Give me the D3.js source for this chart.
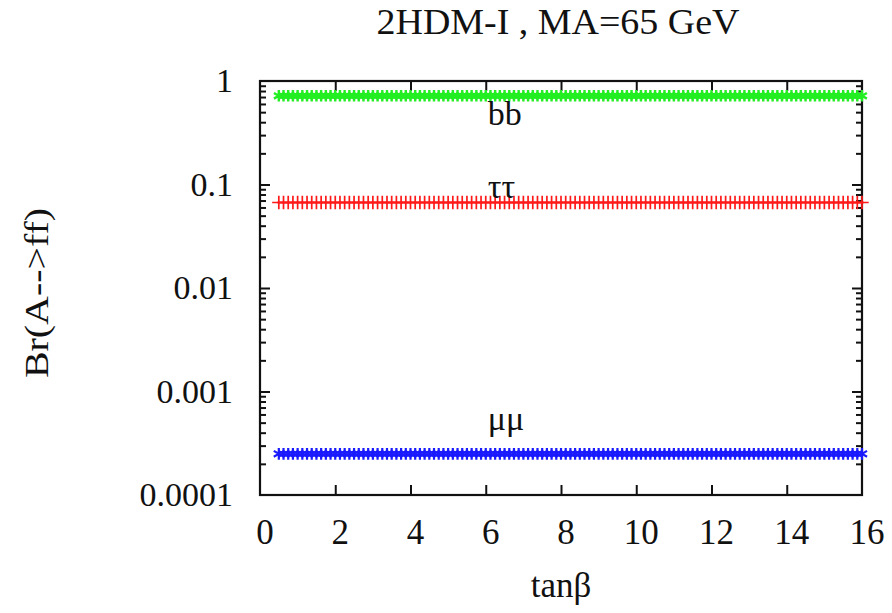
<!DOCTYPE html>
<html>
<head>
<meta charset="utf-8">
<script src="https://cdn.jsdelivr.net/npm/d3@7"></script>
<style>
  html, body { margin: 0; padding: 0; background: #fff; }
  svg { display: block; }
  text { font-family: "Liberation Serif", "DejaVu Serif", serif; fill: #111; }
</style>
</head>
<body>
<svg id="chart" width="892" height="613"></svg>
<script>
// tanβ scan points and the flat branching ratios of A -> f f̄ (type-I 2HDM, MA = 65 GeV)
const tanBeta = d3.range(0.5, 16.0001, 0.125);
const channels = ["bb", "ττ", "μμ"];
const branchingRatios = [0.72, 0.067, 2.5e-4];
const labelTanBeta = [6, 6, 6];

const xTickValues = [0, 2, 4, 6, 8, 10, 12, 14, 16];
const xTickLabels = ["0", "2", "4", "6", "8", "10", "12", "14", "16"];
const yTickValues = [1, 0.1, 0.01, 0.001, 0.0001];
const yTickLabels = ["1", "0.1", "0.01", "0.001", "0.0001"];

const titleText = "2HDM-I , MA=65 GeV";
const xTitle = "tanβ";
const yTitle = "Br(A-->ff)";

// drawing styles per channel
const styles = {
  "bb": { color: "#22ee22", symbol: d3.symbolAsterisk, size: 90, width: 2.4, line: false },
  "ττ": { color: "#ff1a1a", symbol: d3.symbolPlus, size: 60, width: 1.7, line: true },
  "μμ": { color: "#1a1aff", symbol: d3.symbolAsterisk, size: 95, width: 2.2, line: false }
};

const svg = d3.select("#chart");
const frame = { left: 260, right: 862, top: 81, bottom: 495 };

const x = d3.scaleLinear().domain([0, 16]).range([frame.left, frame.right]);
const y = d3.scaleLog().domain([1e-4, 1]).range([frame.bottom, frame.top]);

// minor ticks for each decade
const minorY = [];
for (let e = -4; e < 0; e++) {
  for (let m = 2; m <= 9; m++) minorY.push(m * Math.pow(10, e));
}

const axes = svg.append("g").attr("class", "axes");

function styleAxis(g) {
  g.select(".domain").remove();
  g.selectAll(".tick line").attr("stroke", "#111").attr("stroke-width", 2);
}

// bottom axis with labels, top axis ticks only
axes.append("g")
  .attr("transform", `translate(0,${frame.bottom})`)
  .call(d3.axisBottom(x).tickValues(xTickValues.slice(1, -1)).tickSize(-10).tickFormat(""))
  .call(styleAxis);
axes.append("g")
  .attr("transform", `translate(0,${frame.top})`)
  .call(d3.axisTop(x).tickValues(xTickValues.slice(1, -1)).tickSize(-10).tickFormat(""))
  .call(styleAxis);

// left / right axes: major and minor ticks pointing inward
[[d3.axisLeft, frame.left], [d3.axisRight, frame.right]].forEach(([axisFn, px]) => {
  axes.append("g")
    .attr("transform", `translate(${px},0)`)
    .call(axisFn(y).tickValues(yTickValues.slice(1, -1)).tickSize(-10).tickFormat(""))
    .call(styleAxis);
  axes.append("g")
    .attr("transform", `translate(${px},0)`)
    .call(axisFn(y).tickValues(minorY).tickSize(-6).tickFormat(""))
    .call(styleAxis);
});

// tick labels
svg.append("g").selectAll("text")
  .data(xTickValues)
  .join("text")
  .attr("x", (d) => x(d) + 5)
  .attr("y", 544)
  .attr("text-anchor", "middle")
  .attr("font-size", 35)
  .text((d, i) => xTickLabels[i]);

svg.append("g").selectAll("text")
  .data(yTickValues)
  .join("text")
  .attr("x", 233)
  .attr("y", (d) => y(d) + 11)
  .attr("text-anchor", "end")
  .attr("font-size", 34)
  .text((d, i) => yTickLabels[i]);

// frame
svg.append("rect")
  .attr("x", frame.left).attr("y", frame.top)
  .attr("width", frame.right - frame.left)
  .attr("height", frame.bottom - frame.top)
  .attr("fill", "none")
  .attr("stroke", "#111")
  .attr("stroke-width", 2.2);

// channel curves
const plot = svg.append("g");
channels.forEach((ch, i) => {
  const st = styles[ch];
  const pts = tanBeta.map((t) => [t, branchingRatios[i]]);
  const g = plot.append("g");
  if (st.line) {
    g.append("path")
      .datum(pts)
      .attr("d", d3.line().x((d) => x(d[0])).y((d) => y(d[1])))
      .attr("fill", "none")
      .attr("stroke", st.color)
      .attr("stroke-width", 2);
  }
  const sym = d3.symbol().type(st.symbol).size(st.size);
  g.selectAll("path.pt")
    .data(pts)
    .join("path")
    .attr("class", "pt")
    .attr("transform", (d) => `translate(${x(d[0])},${y(d[1])})`)
    .attr("d", sym)
    .attr("fill", "none")
    .attr("stroke", st.color)
    .attr("stroke-width", st.width);
});

// channel names
svg.append("g").selectAll("text")
  .data(channels)
  .join("text")
  .attr("x", (d, i) => x(labelTanBeta[i]) + 2)
  .attr("y", (d, i) => [125, 198, 430][i])
  .attr("font-size", 34)
  .text((d) => d);

// titles
svg.append("text")
  .attr("x", 558).attr("y", 34)
  .attr("text-anchor", "middle")
  .attr("font-size", 35)
  .attr("textLength", 363)
  .attr("lengthAdjust", "spacingAndGlyphs")
  .text(titleText);

svg.append("text")
  .attr("x", 561).attr("y", 597)
  .attr("text-anchor", "middle")
  .attr("font-size", 35)
  .text(xTitle);

svg.append("text")
  .attr("transform", "translate(48,293) rotate(-90)")
  .attr("text-anchor", "middle")
  .attr("font-size", 33)
  .attr("textLength", 170)
  .attr("lengthAdjust", "spacingAndGlyphs")
  .text(yTitle);
</script>
</body>
</html>
